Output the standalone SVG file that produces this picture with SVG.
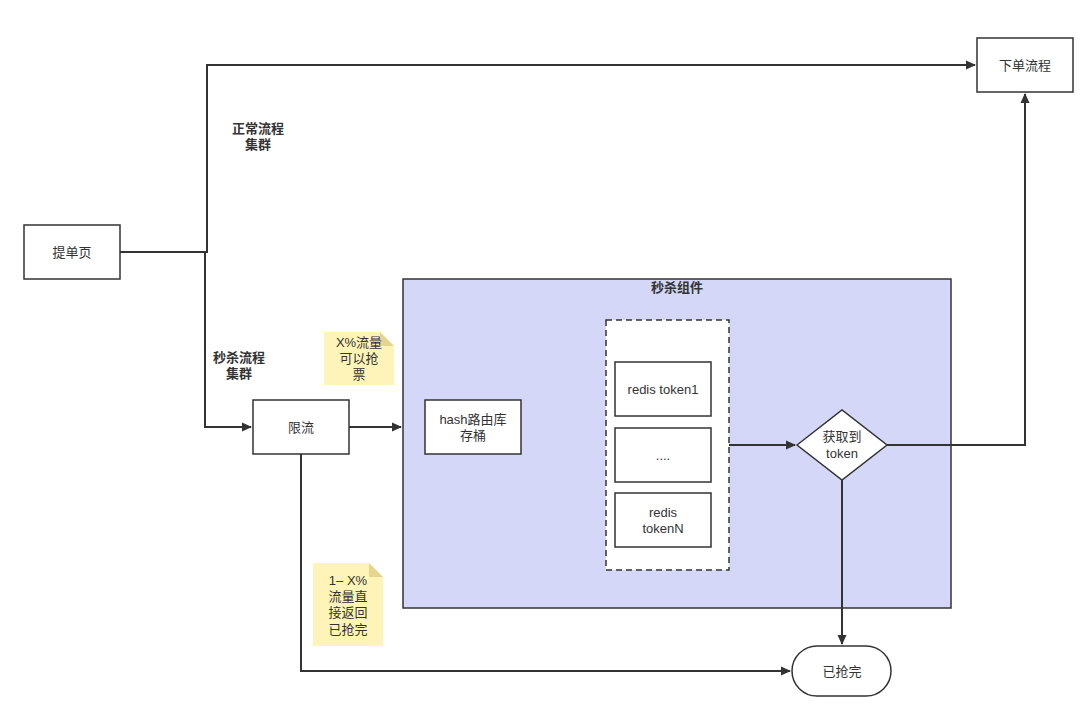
<svg xmlns="http://www.w3.org/2000/svg" width="1089" height="718" viewBox="0 0 1089 718">
<defs>
<marker id="arr" markerWidth="10" markerHeight="10" refX="9" refY="5" orient="auto" markerUnits="userSpaceOnUse">
<path d="M0,0.5 L10,5 L0,9.5 Z" fill="#333"/>
</marker>
<style>
.box{fill:#fff;stroke:#333;stroke-width:1.5}
.t{font-family:"Liberation Sans","Noto Sans CJK SC",sans-serif;font-size:13px;fill:#333;text-anchor:middle}
.b{font-weight:bold}
.c{fill:none;stroke:#333;stroke-width:2}
.note{fill:#fff4b8}
.fold{fill:#e6d58e}
</style>
</defs>
<rect width="1089" height="718" fill="#fff"/>
<g id="seckill-component">
<rect x="403" y="279" width="548" height="329" fill="#d4d7f7" stroke="#333" stroke-width="1.5"/>
<text class="t b" x="677" y="292">秒杀组件</text>
</g>
<g id="token-group">
<rect x="606" y="320" width="123" height="250" fill="#fff" stroke="#333" stroke-width="1.5" stroke-dasharray="6,4"/>
</g>
<g id="connectors">
<path class="c" d="M120,252 H207 V65 H975" marker-end="url(#arr)"/>
<path class="c" d="M120,252 H205 V427 H251" marker-end="url(#arr)"/>
<path class="c" d="M349,427 H401" marker-end="url(#arr)"/>
<path class="c" d="M301,454 V671 H790" marker-end="url(#arr)"/>
<path class="c" d="M729,445 H795" marker-end="url(#arr)"/>
<path class="c" d="M887,445 H1025 V94" marker-end="url(#arr)"/>
<path class="c" d="M842,480 V644" marker-end="url(#arr)"/>
</g>
<g id="submit-page">
<rect class="box" x="24" y="225" width="96" height="54"/>
<text class="t" x="72" y="257">提单页</text>
</g>
<g id="order-flow">
<rect class="box" x="977" y="38" width="96" height="54"/>
<text class="t" x="1025" y="70">下单流程</text>
</g>
<g id="rate-limit">
<rect class="box" x="253" y="400" width="96" height="54"/>
<text class="t" x="301" y="432">限流</text>
</g>
<g id="hash-route">
<rect class="box" x="425" y="400" width="96" height="54"/>
<text class="t" x="473" y="424">hash路由库</text>
<text class="t" x="473" y="440">存桶</text>
</g>
<g id="redis-token1">
<rect class="box" x="615" y="362" width="96" height="54"/>
<text class="t" x="663" y="394">redis token1</text>
</g>
<g id="redis-dots">
<rect class="box" x="615" y="428" width="96" height="54"/>
<text class="t" x="663" y="460">....</text>
</g>
<g id="redis-tokenN">
<rect class="box" x="615" y="493" width="96" height="54"/>
<text class="t" x="663" y="517">redis</text>
<text class="t" x="663" y="533">tokenN</text>
</g>
<g id="get-token">
<polygon class="box" points="797,445 842,410 887,445 842,480"/>
<text class="t" x="842" y="441">获取到</text>
<text class="t" x="842" y="458">token</text>
</g>
<g id="sold-out">
<rect class="box" x="792" y="646" width="99" height="50" rx="25" ry="25"/>
<text class="t" x="842" y="676">已抢完</text>
</g>
<g id="label-normal">
<text class="t b" x="258" y="133">正常流程</text>
<text class="t b" x="258" y="149">集群</text>
</g>
<g id="label-seckill">
<text class="t b" x="239" y="362">秒杀流程</text>
<text class="t b" x="239" y="378">集群</text>
</g>
<g id="note-pass">
<path class="note" d="M324,332 H380 L394,346 V385 H324 Z"/>
<path class="fold" d="M380,332 L394,346 H380 Z"/>
<text class="t" x="359" y="347">X%流量</text>
<text class="t" x="359" y="363">可以抢</text>
<text class="t" x="359" y="379">票</text>
</g>
<g id="note-reject">
<path class="note" d="M313,563 H369 L383,577 V646 H313 Z"/>
<path class="fold" d="M369,563 L383,577 H369 Z"/>
<text class="t" x="348" y="585">1– X%</text>
<text class="t" x="348" y="601">流量直</text>
<text class="t" x="348" y="617">接返回</text>
<text class="t" x="348" y="634">已抢完</text>
</g>
</svg>
